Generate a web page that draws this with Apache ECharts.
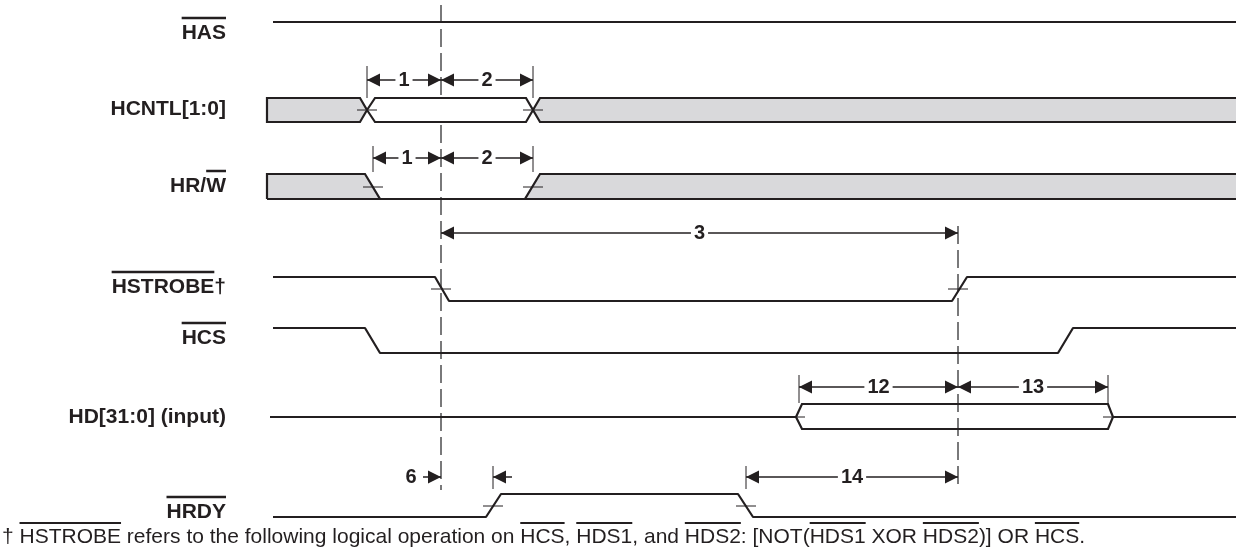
<!DOCTYPE html>
<html>
<head>
<meta charset="utf-8">
<script src="https://cdn.jsdelivr.net/npm/echarts@6/dist/echarts.min.js"></script>
<style>
	html, body { margin: 0; padding: 0; background: #fff; }
	#chart { width: 1236px; height: 550px; }
</style>
</head>
<body>
<div id="chart"></div>
<script>
// ---- data (time on x, row level on y) ----
const signalNames = ['HAS', 'HCNTL[1:0]', 'HR/W', 'HSTROBE\u2020', 'HCS', 'HD[31:0] (input)', 'HRDY']
// overlined character range of each name, [-1,-1] = none
const nameBars = [[0, 3], [-1, -1], [3, 4], [0, 7], [0, 3], [-1, -1], [0, 4]]
const nameRows = [33, 109, 186, 287, 338, 417, 512]

// reference edges: [time, from, to]
const refEdges = [[441, 5, 490], [958, 226, 490]]

// single traces: [time, level]
const hasWave = [[273, 22], [1236, 22]]
const hstrobeWave = [[273, 277], [435, 277], [449, 301], [952, 301], [967, 277], [1236, 277]]
const hcsWave = [[273, 328], [365, 328], [380, 353], [1058, 353], [1073, 328], [1236, 328]]
const hrdyWave = [[273, 517], [486, 517], [501, 494], [738, 494], [753, 517], [1236, 517]]
const hdIdleLeft = [[270, 417], [796, 417]]
const hdIdleRight = [[1113, 417], [1236, 417]]
const hrwLow = [[380, 199], [525, 199]]

// bus segments
const invalidBus = [
	[[267, 110], [267, 98], [360, 98], [367, 110], [360, 122], [267, 122], [267, 110]],
	[[1240, 98], [540, 98], [533, 110], [540, 122], [1240, 122]],
	[[267, 199], [267, 174], [365, 174], [380, 199], [267, 199]],
	[[1240, 174], [540, 174], [525, 199], [1240, 199]],
]
const validBus = [
	[[367, 110], [375, 98], [526, 98], [533, 110], [526, 122], [375, 122], [367, 110]],
]
const openBus = [
	[[796, 417], [802, 404], [1108, 404], [1113, 417], [1108, 429], [802, 429], [796, 417]],
]

// crossing points of edges
const crossMarks = [[367, 110], [533, 110], [373, 187], [533, 187], [441, 289], [958, 289], [493, 506], [746, 506]]
const crossMarksSmall = [[800, 417], [1108, 417]]

// extension lines: [time, from, to]
const extTicks = [[367, 66, 98], [533, 66, 98], [373, 146, 172], [533, 146, 172], [799, 375, 403], [1108, 375, 403], [493, 466, 489], [746, 466, 489]]

// timing parameters: [from, to, level, label]
const dimArrows = [
	[367, 441, 80, '1'], [441, 533, 80, '2'],
	[373, 441, 158, '1'], [441, 533, 158, '2'],
	[441, 958, 233, '3'],
	[799, 958, 387, '12'], [958, 1108, 387, '13'],
	[746, 958, 477, '14'],
]
// single pointers: [tail, tip, level]
const pointers = [[423, 441, 477], [512, 493, 477]]
const pointerLabels = [[411, 477, '6']]

const footnoteParts = [
	['\u2020 ', 0], ['HSTROBE', 1], [' refers to the following logical operation on ', 0], ['HCS', 1],
	[', ', 0], ['HDS1', 1], [', and ', 0], ['HDS2', 1], [': [NOT(', 0], ['HDS1', 1], [' XOR ', 0],
	['HDS2', 1], [')] OR ', 0], ['HCS', 1], ['.', 0],
]
const footnoteAt = [2, 537]

// ---- styles ----
const LINE = '#231f20'
const GRAY = '#d9d9db'
const FAMILY = '"Liberation Sans", Arial, Helvetica, sans-serif'
const NAME_FONT = 'bold 21px ' + FAMILY
const DIM_FONT = 'bold 20px ' + FAMILY
const NOTE_FONT = '21px ' + FAMILY

const measureCtx = document.createElement('canvas').getContext('2d')
function textWidth(str, font) {
	measureCtx.font = font
	return measureCtx.measureText(str).width
}

function waveSeries(data) {
	return {
		type: 'line',
		data: data,
		symbol: 'none',
		clip: false,
		z: 3,
		lineStyle: { color: LINE, width: 2.2 },
		silent: true,
	}
}

function busSeries(shapes, fill) {
	return {
		type: 'custom',
		clip: false,
		z: 2,
		silent: true,
		data: shapes.map((s, i) => [s[0][0], s[0][1], i]),
		encode: { x: 0, y: 1 },
		renderItem(params, api) {
			const pts = shapes[params.dataIndex].map((p) => api.coord(p))
			const children = []
			if (fill) {
				children.push({ type: 'polygon', shape: { points: pts }, style: { fill: fill, stroke: null } })
			}
			children.push({
				type: 'polyline',
				shape: { points: pts },
				style: { stroke: LINE, lineWidth: 2.2, fill: null, lineJoin: 'miter' },
			})
			return { type: 'group', children }
		},
	}
}

function crossSeries(marks, half) {
	return {
		type: 'custom',
		clip: false,
		z: 4,
		silent: true,
		data: marks,
		encode: { x: 0, y: 1 },
		renderItem(params, api) {
			const c = api.coord([api.value(0), api.value(1)])
			return {
				type: 'line',
				shape: { x1: c[0] - half, y1: c[1], x2: c[0] + half, y2: c[1] },
				style: { stroke: LINE, lineWidth: 1 },
			}
		},
	}
}

function arrowHead(tip, dir) {
	// dir = -1 points left, 1 points right
	return {
		type: 'polygon',
		shape: { points: [[tip[0], tip[1]], [tip[0] - dir * 13, tip[1] - 6.5], [tip[0] - dir * 13, tip[1] + 6.5]] },
		style: { fill: LINE, stroke: null },
	}
}

const option = {
	animation: false,
	backgroundColor: '#fff',
	grid: { left: 0, right: 0, top: 0, bottom: 0 },
	xAxis: { type: 'value', min: 0, max: 1236, show: false },
	yAxis: { type: 'value', min: 0, max: 550, inverse: true, show: false },
	series: [
		// dashed reference edges
		{
			type: 'custom',
			clip: false,
			z: 1,
			silent: true,
			data: refEdges,
			encode: { x: 0, y: 1 },
			renderItem(params, api) {
				const a = api.coord([api.value(0), api.value(1)])
				const b = api.coord([api.value(0), api.value(2)])
				return {
					type: 'line',
					shape: { x1: a[0], y1: a[1], x2: b[0], y2: b[1] },
					style: { stroke: '#4d4d4f', lineWidth: 1.5, lineDash: [18, 6] },
				}
			},
		},
		busSeries(invalidBus, GRAY),
		busSeries(validBus, '#fff'),
		busSeries(openBus, null),
		waveSeries(hasWave),
		waveSeries(hstrobeWave),
		waveSeries(hcsWave),
		waveSeries(hrdyWave),
		waveSeries(hdIdleLeft),
		waveSeries(hdIdleRight),
		waveSeries(hrwLow),
		crossSeries(crossMarks, 10),
		crossSeries(crossMarksSmall, 5),
		// extension lines
		{
			type: 'custom',
			clip: false,
			z: 5,
			silent: true,
			data: extTicks,
			encode: { x: 0, y: 1 },
			renderItem(params, api) {
				const a = api.coord([api.value(0), api.value(1)])
				const b = api.coord([api.value(0), api.value(2)])
				return {
					type: 'line',
					shape: { x1: a[0], y1: a[1], x2: b[0], y2: b[1] },
					style: { stroke: LINE, lineWidth: 1 },
				}
			},
		},
		// timing parameter arrows
		{
			type: 'custom',
			clip: false,
			z: 6,
			silent: true,
			data: dimArrows.map((d) => [d[0], d[2], d[1]]),
			encode: { x: 0, y: 1 },
			renderItem(params, api) {
				const d = dimArrows[params.dataIndex]
				const a = api.coord([d[0], d[2]])
				const b = api.coord([d[1], d[2]])
				return {
					type: 'group',
					children: [
						{ type: 'line', shape: { x1: a[0], y1: a[1], x2: b[0], y2: b[1] }, style: { stroke: LINE, lineWidth: 1.5 } },
						arrowHead(a, -1),
						arrowHead(b, 1),
						{
							type: 'text',
							x: (a[0] + b[0]) / 2,
							y: a[1],
							style: {
								text: d[3],
								font: DIM_FONT,
								fill: LINE,
								align: 'center',
								verticalAlign: 'middle',
								backgroundColor: '#fff',
								padding: [0, 3],
							},
						},
					],
				}
			},
		},
		{
			type: 'custom',
			clip: false,
			z: 6,
			silent: true,
			data: pointers,
			encode: { x: 0, y: 2 },
			renderItem(params, api) {
				const p = pointers[params.dataIndex]
				const a = api.coord([p[0], p[2]])
				const b = api.coord([p[1], p[2]])
				return {
					type: 'group',
					children: [
						{ type: 'line', shape: { x1: a[0], y1: a[1], x2: b[0], y2: b[1] }, style: { stroke: LINE, lineWidth: 1.5 } },
						arrowHead(b, b[0] > a[0] ? 1 : -1),
					],
				}
			},
		},
		{
			type: 'custom',
			clip: false,
			z: 6,
			silent: true,
			data: pointerLabels.map((p) => [p[0], p[1]]),
			encode: { x: 0, y: 1 },
			renderItem(params, api) {
				const c = api.coord([api.value(0), api.value(1)])
				return {
					type: 'text',
					x: c[0],
					y: c[1],
					style: { text: pointerLabels[params.dataIndex][2], font: DIM_FONT, fill: LINE, align: 'center', verticalAlign: 'middle' },
				}
			},
		},
		// signal names
		{
			type: 'custom',
			clip: false,
			z: 7,
			silent: true,
			data: nameRows.map((y) => [226, y]),
			encode: { x: 0, y: 1 },
			renderItem(params, api) {
				const i = params.dataIndex
				const c = api.coord([api.value(0), api.value(1)])
				const name = signalNames[i]
				const w = textWidth(name, NAME_FONT)
				const children = [
					{ type: 'text', x: c[0], y: c[1], style: { text: name, font: NAME_FONT, fill: LINE, align: 'right', verticalAlign: 'middle' } },
				]
				const bar = nameBars[i]
				if (bar[0] >= 0) {
					const x0 = c[0] - w + textWidth(name.slice(0, bar[0]), NAME_FONT)
					const x1 = c[0] - w + textWidth(name.slice(0, bar[1]), NAME_FONT)
					children.push({ type: 'line', shape: { x1: x0, y1: c[1] - 15, x2: x1, y2: c[1] - 15 }, style: { stroke: LINE, lineWidth: 2.5 } })
				}
				return { type: 'group', children }
			},
		},
		// footnote
		{
			type: 'custom',
			clip: false,
			z: 7,
			silent: true,
			data: [footnoteAt],
			encode: { x: 0, y: 1 },
			renderItem(params, api) {
				const c = api.coord([api.value(0), api.value(1)])
				const children = []
				let x = c[0]
				footnoteParts.forEach((part) => {
					const w = textWidth(part[0], NOTE_FONT)
					children.push({ type: 'text', x: x, y: c[1], style: { text: part[0], font: NOTE_FONT, fill: LINE, align: 'left', verticalAlign: 'middle' } })
					if (part[1]) {
						children.push({ type: 'line', shape: { x1: x, y1: c[1] - 14, x2: x + w, y2: c[1] - 14 }, style: { stroke: LINE, lineWidth: 2 } })
					}
					x += w
				})
				return { type: 'group', children }
			},
		},
	],
}

const chart = echarts.init(document.getElementById('chart'))
chart.setOption(option)
window.addEventListener('resize', chart.resize)
</script>
</body>
</html>
